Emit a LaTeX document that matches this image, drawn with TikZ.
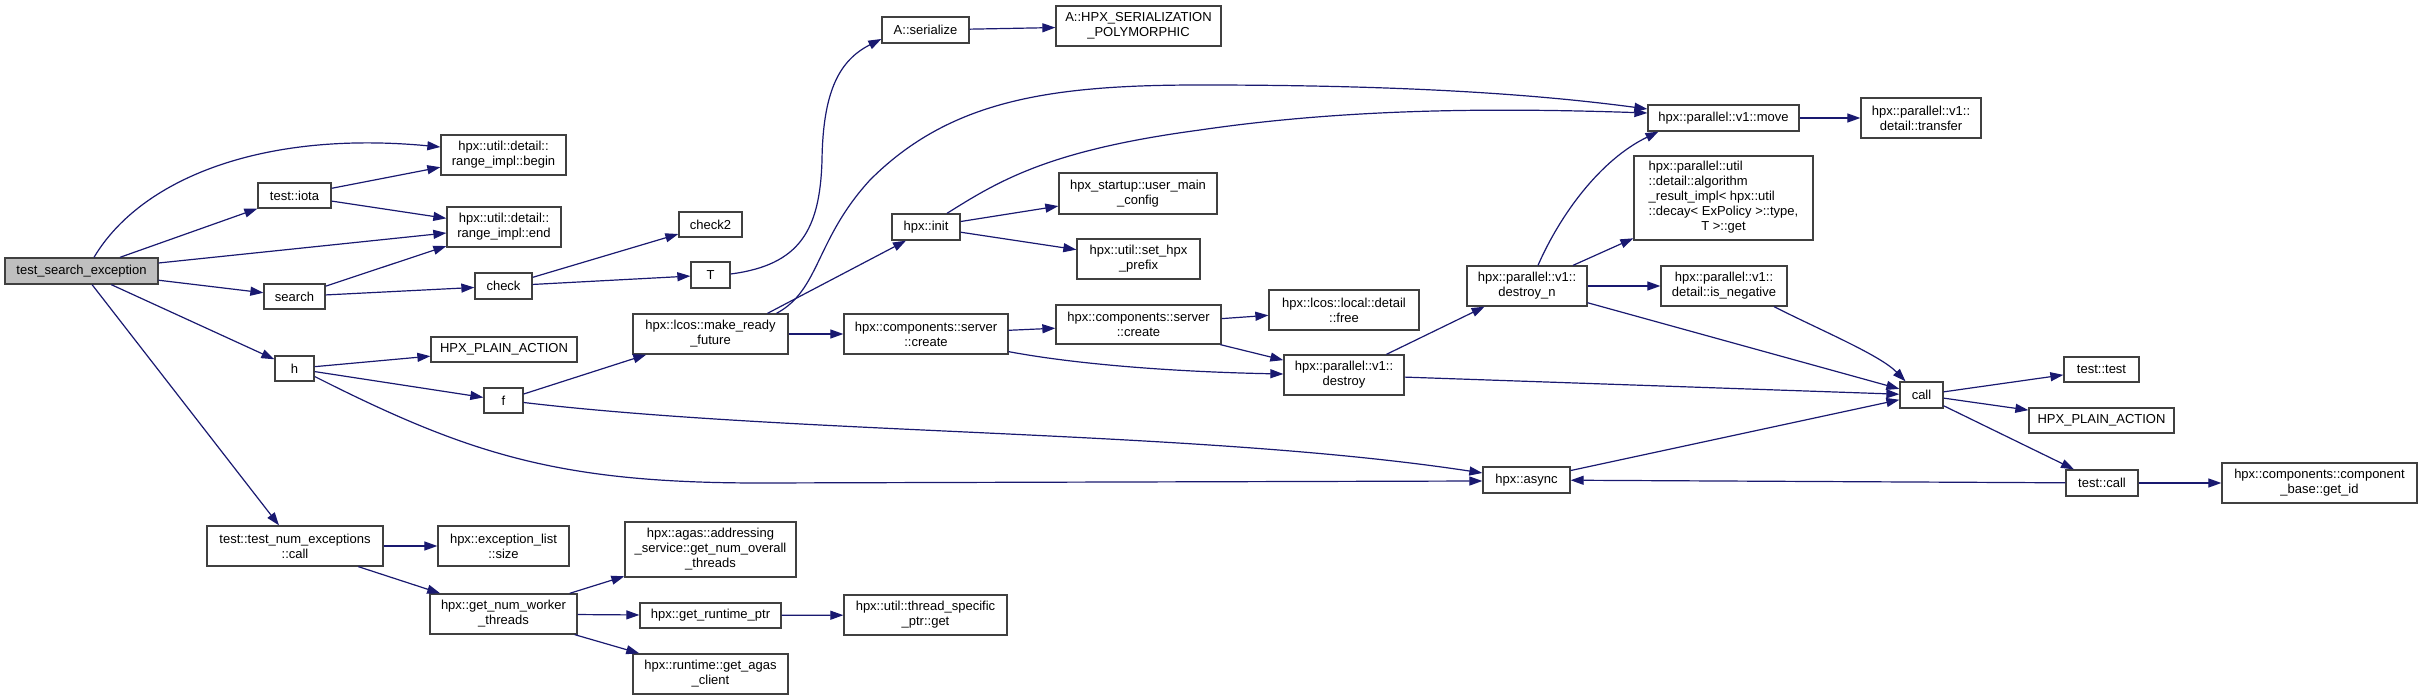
\documentclass[tikz,border=0pt]{standalone}
\usepackage{fontspec}
\setmainfont{Liberation Sans}
\usetikzlibrary{arrows.meta}
\definecolor{edgec}{HTML}{191970}
\definecolor{boxline}{HTML}{404040}
\definecolor{mainfill}{HTML}{BFBFBF}
\newcommand{\gbox}[7][]{%
  \node[gnode,#1,minimum width={(#5-#3)*1pt},minimum height={(#6-#4)*1pt}]
    (#2) at ({(#3+#5)/2},{(#4+#6)/2}) {#7};}
\begin{document}
\begin{tikzpicture}[x=1pt,y=-1pt,
  gnode/.style={draw=boxline,line width=1.3pt,fill=white,rectangle,inner sep=0pt,
    align=center,font=\fontsize{13}{15}\selectfont},
  cedge/.style={draw=edgec,line width=1.2pt,-{Triangle[length=13pt,width=9pt]}}]
\fill[white] (0,0) rectangle (2423,700);
\useasboundingbox (0,0) rectangle (2423,700);
% nodes
\gbox[fill=mainfill]{tse}{5}{258}{158}{284}{test\_search\_exception}
\gbox{iota}{258}{183}{331}{208}{test::iota}
\gbox{begin}{441}{135}{566}{175}{hpx::util::detail::\\range\_impl::begin}
\gbox{endn}{447}{207}{561}{247}{hpx::util::detail::\\range\_impl::end}
\gbox{search}{264}{284}{325}{309}{search}
\gbox{check}{475}{273}{532}{299}{check}
\gbox{h}{275}{356}{314}{381}{h}
\gbox{hpaA}{431}{337}{577}{362}{HPX\_PLAIN\_ACTION}
\gbox{f}{484}{388}{523}{413}{f}
\gbox{tnc}{207}{526}{383}{566}{test::test\_num\_exceptions\\::call}
\gbox{els}{438}{526}{569}{566}{hpx::exception\_list\\::size}
\gbox{gnwt}{430}{594}{577}{634}{hpx::get\_num\_worker\\\_threads}
\gbox{gnot}{625}{522}{796}{577}{hpx::agas::addressing\\\_service::get\_num\_overall\\\_threads}
\gbox{grp}{640}{603}{781}{628}{hpx::get\_runtime\_ptr}
\gbox{gac}{633}{654}{788}{694}{hpx::runtime::get\_agas\\\_client}
\gbox{tsp}{844}{595}{1007}{635}{hpx::util::thread\_specific\\\_ptr::get}
\gbox{checkB}{679}{212}{742}{237}{check2}
\gbox{T}{691}{262}{730}{288}{T}
\gbox{ser}{882}{17}{969}{43}{A::serialize}
\gbox{hsp}{1056}{6}{1221}{46}{A::HPX\_SERIALIZATION\\\_POLYMORPHIC}
\gbox{mrf}{633}{314}{788}{354}{hpx::lcos::make\_ready\\\_future}
\gbox{init}{892}{214}{960}{240}{hpx::init}
\gbox{umc}{1059}{173}{1217}{214}{hpx\_startup::user\_main\\\_config}
\gbox{shp}{1077}{239}{1200}{279}{hpx::util::set\_hpx\\\_prefix}
\gbox{crA}{844}{314}{1008}{354}{hpx::components::server\\::create}
\gbox{crB}{1056}{305}{1221}{344}{hpx::components::server\\::create}
\gbox{free}{1269}{290}{1419}{330}{hpx::lcos::local::detail\\::free}
\gbox{destroy}{1284}{355}{1404}{395}{hpx::parallel::v1::\\destroy}
\gbox{dn}{1467}{266}{1587}{306}{hpx::parallel::v1::\\destroy\_n}
\gbox{move}{1648}{105}{1799}{131}{hpx::parallel::v1::move}
\gbox{transfer}{1861}{98}{1981}{138}{hpx::parallel::v1::\\detail::transfer}
\gbox{ari}{1634}{156}{1813}{240}{\begin{tabular}{@{}l@{}}hpx::parallel::util\\::detail::algorithm\\\_result\_impl< hpx::util\\::decay< ExPolicy >::type,\\\multicolumn{1}{@{}c@{}}{T >::get}\end{tabular}}
\gbox{isneg}{1661}{266}{1787}{306}{hpx::parallel::v1::\\detail::is\_negative}
\gbox{call}{1900}{382}{1943}{408}{call}
\gbox{ttest}{2064}{357}{2139}{382}{test::test}
\gbox{hpaB}{2029}{408}{2174}{433}{HPX\_PLAIN\_ACTION}
\gbox{tcall}{2066}{470}{2138}{496}{test::call}
\gbox{getid}{2222}{463}{2417}{503}{hpx::components::component\\\_base::get\_id}
\gbox{async}{1483}{467}{1570}{493}{hpx::async}
% edges
\draw[cedge] ([xshift=12.5]tse.north) .. controls (140,180) and (260,130) .. ([yshift=8]begin.west);
\draw[cedge] (tse) -- (iota);
\draw[cedge] (tse) -- (endn);
\draw[cedge] (tse) -- (search);
\draw[cedge] (tse) -- (h);
\draw[cedge] (tse) -- (tnc);
\draw[cedge] (iota) -- (begin);
\draw[cedge] (iota) -- (endn);
\draw[cedge] (search) -- (endn);
\draw[cedge] (search) -- (check);
\draw[cedge] (check) -- (checkB);
\draw[cedge] (check) -- (T);
\draw[cedge] ([yshift=1]T.east) .. controls (800,265) and (820,230) .. (822,160) .. controls (823,90) and (840,60) .. ([yshift=-9]ser.west);
\draw[cedge] (ser) -- (hsp);
\draw[cedge] (h) -- (hpaA);
\draw[cedge] (h) -- (f);
\draw[cedge] ([yshift=-8]h.east) .. controls (470,455) and (560,483) .. (760,483) -- ([yshift=-1]async.west);
\draw[cedge] ([yshift=-2]f.east) .. controls (800,435) and (1200,430) .. ([yshift=7]async.west);
\draw[cedge] (f) -- (mrf);
\draw[cedge] ([xshift=57]mrf.north) -- ([xshift=-20]init.south);
\draw[cedge] ([xshift=66]mrf.north) .. controls (820,290) and (815,240) .. (870,180) .. controls (950,100) and (1050,85) .. (1200,85) .. controls (1380,85) and (1520,92) .. ([yshift=9]move.west);
\draw[cedge] (mrf) -- (crA);
\draw[cedge] ([xshift=21]init.north) .. controls (1000,180) and (1050,150) .. (1200,130) .. controls (1350,108) and (1500,108) .. ([yshift=5]move.west);
\draw[cedge] (init) -- (umc);
\draw[cedge] (init) -- (shp);
\draw[cedge] (crA) -- (crB);
\draw[cedge] ([yshift=3]crA.south east) .. controls (1080,365) and (1180,372) .. ([yshift=1]destroy.west);
\draw[cedge] (crB) -- (free);
\draw[cedge] (crB) -- (destroy);
\draw[cedge] (destroy) -- (dn);
\draw[cedge] (destroy) -- (call);
\draw[cedge] ([xshift=11]dn.north) .. controls (1560,215) and (1600,160) .. ([xshift=-65]move.south);
\draw[cedge] (dn) -- (ari);
\draw[cedge] (dn) -- (isneg);
\draw[cedge] (dn) -- (call);
\draw[cedge] ([xshift=50]isneg.south) .. controls (1820,330) and (1880,355) .. ([xshift=-16]call.north);
\draw[cedge] (move) -- (transfer);
\draw[cedge] (call) -- (ttest);
\draw[cedge] (call) -- (hpaB);
\draw[cedge] (call) -- (tcall);
\draw[cedge] (async) -- (call);
\draw[cedge] (tcall) -- (async);
\draw[cedge] (tcall) -- (getid);
\draw[cedge] (tnc) -- (els);
\draw[cedge] (tnc) -- (gnwt);
\draw[cedge] (gnwt) -- (gnot);
\draw[cedge] (gnwt) -- (grp);
\draw[cedge] (gnwt) -- (gac);
\draw[cedge] (grp) -- (tsp);
\end{tikzpicture}
\end{document}
